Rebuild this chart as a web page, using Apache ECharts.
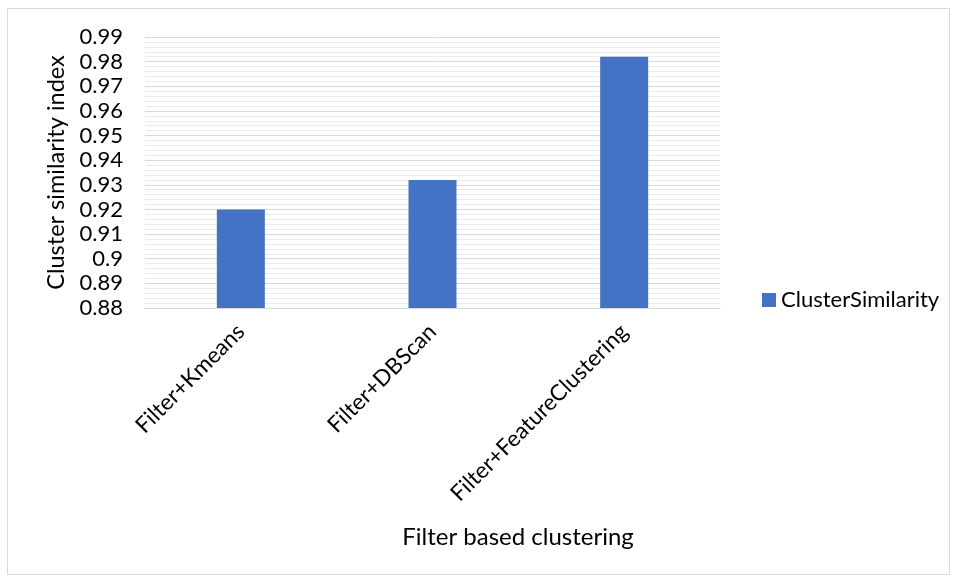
<!DOCTYPE html>
<html><head><meta charset="utf-8">
<script src="https://cdn.jsdelivr.net/npm/echarts@6/dist/echarts.min.js"></script>
<style>html,body{margin:0;padding:0;background:#fff}#c{width:958px;height:581px}</style>
</head><body><div id="c"></div>
<script>
const categories = ["Filter+Kmeans", "Filter+DBScan", "Filter+FeatureClustering"];
const seriesName = "ClusterSimilarity";
const values = [0.92, 0.932, 0.982];
const yMin = 0.88, yMax = 0.99, yStep = 0.01;
const xTitle = "Filter based clustering";
const yTitle = "Cluster similarity index";

const FONT = "Lato, 'Open Sans', sans-serif";
const chart = echarts.init(document.getElementById('c'), null, {renderer: 'canvas'});
chart.setOption({
  animation: false,
  backgroundColor: '#fff',
  graphic: [{type: 'rect', shape: {x: 7.5, y: 8.5, width: 942, height: 566}, style: {fill: 'none', stroke: '#d9d9d9', lineWidth: 1}}],
  title: {
    text: xTitle, left: 513, top: 520, textAlign: 'center',
    textStyle: {fontFamily: FONT, fontSize: 24, fontWeight: 'normal', color: '#000'}
  },
  grid: {left: 145, right: 238, top: 37, bottom: 273, containLabel: false},
  legend: {
    data: [seriesName], left: 757, top: 284, itemWidth: 14, itemHeight: 14, itemGap: 4,
    icon: 'rect', textStyle: {fontFamily: FONT, fontSize: 22, color: '#000', padding: [0,0,0,0]}
  },
  xAxis: {
    type: 'category', data: categories,
    axisLine: {lineStyle: {color: '#d9d9d9', width: 1}},
    axisTick: {show: false},
    axisLabel: {rotate: 45, fontFamily: FONT, fontSize: 22.5, color: '#000', margin: 20, interval: 0}
  },
  yAxis: {
    type: 'value', min: yMin, max: yMax, interval: yStep,
    axisLine: {show: false}, axisTick: {show: false},
    axisLabel: {fontFamily: FONT, fontSize: 22, color: '#000', margin: 22,
      formatter: v => String(Math.round(v * 100) / 100)},
    splitLine: {lineStyle: {color: '#d9d9d9', width: 1}},
    minorTick: {show: false, splitNumber: 5},
    minorSplitLine: {show: true, lineStyle: {color: '#ececec', width: 1}},
    name: yTitle, nameLocation: 'middle', nameGap: 76, nameRotate: 90,
    nameTextStyle: {fontFamily: FONT, fontSize: 23.5, color: '#000'}
  },
  series: [{
    name: seriesName, type: 'bar', data: values, barWidth: 48,
    itemStyle: {color: '#4472c4'}
  }]
});
</script></body></html>
